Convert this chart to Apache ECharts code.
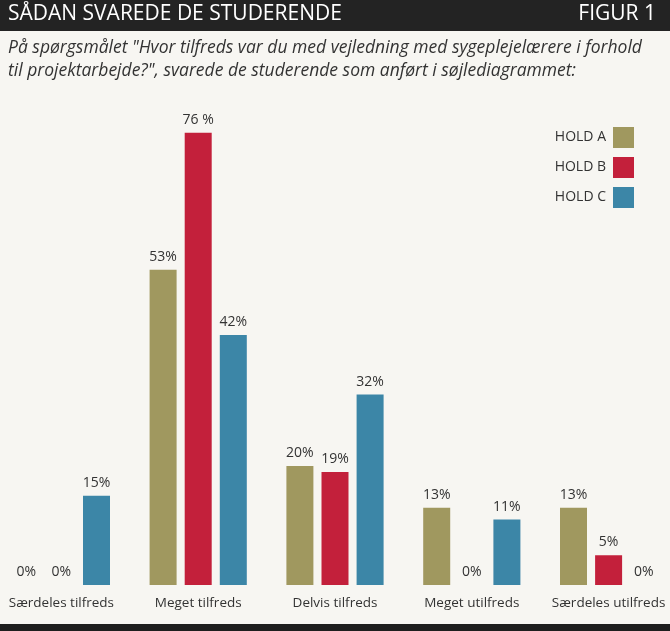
<!DOCTYPE html>
<html>
<head>
<meta charset="utf-8">
<script src="https://cdn.jsdelivr.net/npm/echarts@6/dist/echarts.min.js"></script>
<style>
  html, body { margin: 0; padding: 0; background: #f7f6f2; overflow: hidden; }
  #chart { width: 684px; height: 631px; margin-left: -7px; }
</style>
</head>
<body>
<div id="chart"></div>
<script>
const categories = ['Særdeles tilfreds', 'Meget tilfreds', 'Delvis tilfreds', 'Meget utilfreds', 'Særdeles utilfreds'];
const holdA = [0, 53, 20, 13, 13];
const holdB = [0, 76, 19, 0, 5];
const holdC = [15, 42, 32, 11, 0];
const labelsB = ['0%', '76 %', '19%', '0%', '5%'];

const font = '"Open Sans", "Noto Sans", sans-serif';
// the div is 7px wider on each side so the outer bar groups sit like the print
const chart = echarts.init(document.getElementById('chart'));

function series(name, data, color, labels) {
    return {
        name: name,
        type: 'bar',
        data: data,
        barWidth: 27,
        barGap: '30%',
        itemStyle: { color: color },
        label: {
            show: true,
            position: 'top',
            distance: 6,
            color: '#333',
            fontFamily: font,
            fontSize: 14,
            formatter: p => labels ? labels[p.dataIndex] : p.value + '%'
        }
    };
}

const option = {
    backgroundColor: '#f7f6f2',
    animation: false,
    graphic: [
        { type: 'rect', left: 0, top: 0, shape: { width: 684, height: 31 }, style: { fill: '#232323' } },
        { type: 'rect', left: 0, top: 624, shape: { width: 684, height: 7 }, style: { fill: '#1e1e1e' } },
        { type: 'text', left: 15, top: 4, style: { text: 'SÅDAN SVAREDE DE STUDERENDE', fill: '#fff', font: '21px ' + font } },
        { type: 'text', right: 21, top: 4, style: { text: 'FIGUR 1', fill: '#fff', font: '21px ' + font } },
        {
            type: 'text', left: 15, top: 37,
            style: {
                text: 'På spørgsmålet "Hvor tilfreds var du med vejledning med sygeplejelærere i forhold\ntil projektarbejde?", svarede de studerende som anført i søjlediagrammet:',
                fill: '#333', font: 'italic 17.5px ' + font, lineHeight: 23
            }
        }
    ],
    legend: {
        orient: 'vertical',
        right: 38,
        top: 122,
        align: 'right',
        itemWidth: 21,
        itemHeight: 21,
        itemGap: 9,
        icon: 'rect',
        textStyle: { color: '#333', fontFamily: font, fontSize: 14, padding: [0, 2, 0, 0] },
        data: ['HOLD A', 'HOLD B', 'HOLD C']
    },
    grid: { left: 0, right: 0, top: 109, bottom: 46 },
    xAxis: {
        type: 'category',
        data: categories,
        axisLine: { show: false },
        axisTick: { show: false },
        axisLabel: { interval: 0, color: '#333', fontFamily: font, fontSize: 13.5, margin: 11 }
    },
    yAxis: {
        type: 'value',
        min: 0,
        max: 80,
        show: false,
        splitLine: { show: false }
    },
    series: [
        series('HOLD A', holdA, '#a0985f'),
        series('HOLD B', holdB, '#c3203b', labelsB),
        series('HOLD C', holdC, '#3c86a7')
    ]
};
chart.setOption(option);
</script>
</body>
</html>
